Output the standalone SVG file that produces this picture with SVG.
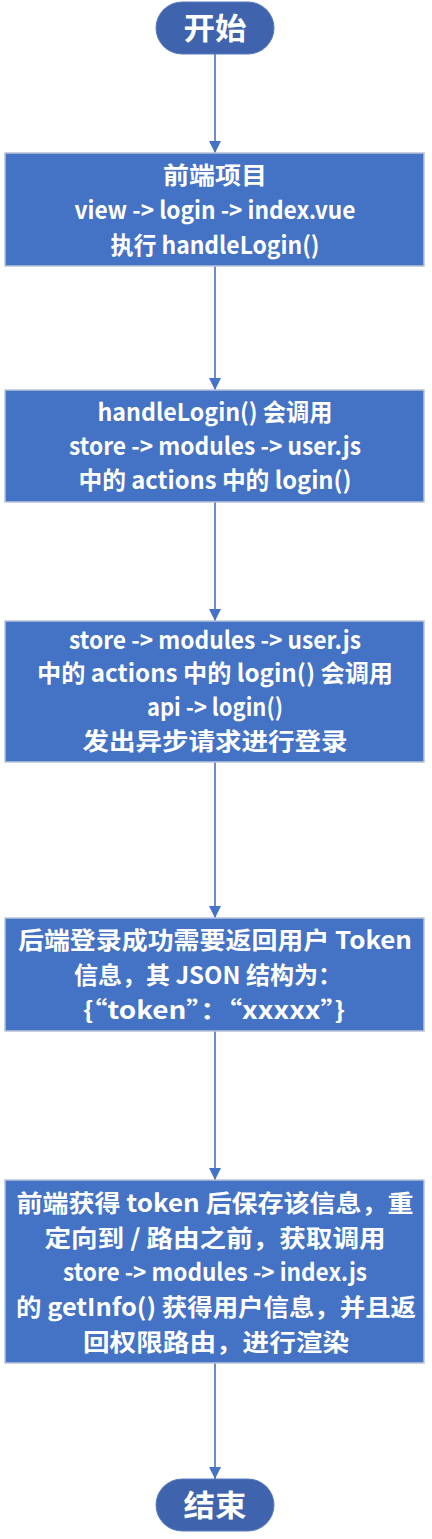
<svg xmlns="http://www.w3.org/2000/svg" width="432" height="1539" viewBox="0 0 432 1539">
<style>
.term{fill:#3f63ad;stroke:#5a7cc2;stroke-width:1}
.box{fill:#4472c4;stroke:#b9c4d8;stroke-width:1.5}
.t{font-family:"Noto Sans CJK SC","Noto Sans",sans-serif;font-weight:bold;fill:#ffffff;text-anchor:middle;font-size:24px}
.tt{font-family:"Noto Sans CJK SC","Noto Sans",sans-serif;font-weight:bold;fill:#ffffff;text-anchor:middle;font-size:30px}
.c{stroke:#4472c4;stroke-width:1.6;fill:none;marker-end:url(#ah)}
</style>
<defs>
<marker id="ah" markerUnits="userSpaceOnUse" markerWidth="12" markerHeight="12" viewBox="0 0 12 12" refX="12" refY="6" orient="auto">
<path d="M0,0 L12,6 L0,12 Z" fill="#4472c4"/>
</marker>
</defs>
<rect width="432" height="1539" fill="#ffffff"/>
<g id="connectors">
<line class="c" x1="215" y1="54" x2="215" y2="153"/>
<line class="c" x1="215" y1="266" x2="215" y2="390"/>
<line class="c" x1="215" y1="502" x2="215" y2="621"/>
<line class="c" x1="215" y1="762" x2="215" y2="918"/>
<line class="c" x1="215" y1="1031" x2="215" y2="1180"/>
<line class="c" x1="215" y1="1363" x2="215" y2="1479"/>
</g>
<g id="start">
<rect class="term" x="156" y="2" width="118" height="52" rx="26"/>
<text class="tt" x="215" y="39" textLength="63" lengthAdjust="spacingAndGlyphs">开始</text>
</g>
<g id="step1">
<rect class="box" x="5" y="153" width="419" height="113"/>
<text class="t" x="215" y="184" textLength="104" lengthAdjust="spacingAndGlyphs">前端项目</text>
<text class="t" x="215" y="219" textLength="281" lengthAdjust="spacingAndGlyphs">view -&gt; login -&gt; index.vue</text>
<text class="t" x="215" y="254" textLength="209" lengthAdjust="spacingAndGlyphs">执行 handleLogin()</text>
</g>
<g id="step2">
<rect class="box" x="5" y="390" width="419" height="112"/>
<text class="t" x="215" y="421" textLength="235" lengthAdjust="spacingAndGlyphs">handleLogin() 会调用</text>
<text class="t" x="215" y="455" textLength="292" lengthAdjust="spacingAndGlyphs">store -&gt; modules -&gt; user.js</text>
<text class="t" x="215" y="489" textLength="273" lengthAdjust="spacingAndGlyphs">中的 actions 中的 login()</text>
</g>
<g id="step3">
<rect class="box" x="5" y="621" width="419" height="141"/>
<text class="t" x="215" y="649" textLength="292" lengthAdjust="spacingAndGlyphs">store -&gt; modules -&gt; user.js</text>
<text class="t" x="215" y="682" textLength="356" lengthAdjust="spacingAndGlyphs">中的 actions 中的 login() 会调用</text>
<text class="t" x="215" y="716" textLength="136" lengthAdjust="spacingAndGlyphs">api -&gt; login()</text>
<text class="t" x="215" y="750" textLength="265" lengthAdjust="spacingAndGlyphs">发出异步请求进行登录</text>
</g>
<g id="step4">
<rect class="box" x="5" y="918" width="419" height="113"/>
<text class="t" x="215" y="949" textLength="394" lengthAdjust="spacingAndGlyphs">后端登录成功需要返回用户 Token</text>
<text class="t" x="208" y="984" textLength="268" lengthAdjust="spacingAndGlyphs">信息，其 JSON 结构为：</text>
<text class="t" x="214" y="1019" textLength="262" lengthAdjust="spacingAndGlyphs">{“token”：“xxxxx”}</text>
</g>
<g id="step5">
<rect class="box" x="5" y="1180" width="419" height="183"/>
<text class="t" x="215" y="1212" textLength="397" lengthAdjust="spacingAndGlyphs">前端获得 token 后保存该信息，重</text>
<text class="t" x="215" y="1247" textLength="341" lengthAdjust="spacingAndGlyphs">定向到 / 路由之前，获取调用</text>
<text class="t" x="215" y="1281" textLength="304" lengthAdjust="spacingAndGlyphs">store -&gt; modules -&gt; index.js</text>
<text class="t" x="216" y="1316" textLength="400" lengthAdjust="spacingAndGlyphs">的 getInfo() 获得用户信息，并且返</text>
<text class="t" x="216" y="1351" textLength="266" lengthAdjust="spacingAndGlyphs">回权限路由，进行渲染</text>
</g>
<g id="end">
<rect class="term" x="156" y="1479" width="118" height="52" rx="26"/>
<text class="tt" x="215" y="1516" textLength="63" lengthAdjust="spacingAndGlyphs">结束</text>
</g>
</svg>
